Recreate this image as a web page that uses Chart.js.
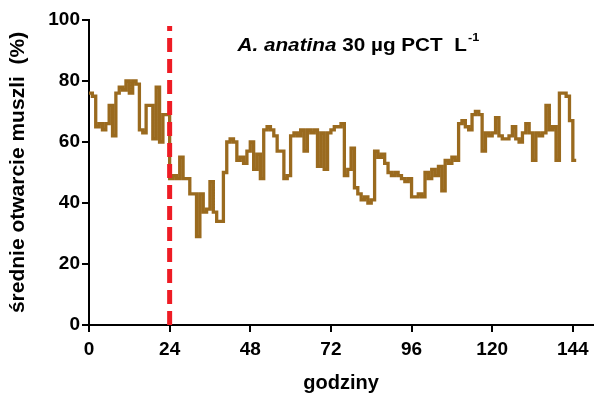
<!DOCTYPE html>
<html>
<head>
<meta charset="utf-8">
<script src="https://cdn.jsdelivr.net/npm/chart.js@4.4.0/dist/chart.umd.min.js"></script>
<style>
  html, body { margin: 0; padding: 0; background: #fff; }
  #wrap { width: 597px; height: 399px; }
</style>
</head>
<body>
<div id="wrap"><canvas id="chartMuszle"></canvas></div>
<script>
// godziny pomiaru (co 1 h) i srednie otwarcie muszli (%)
const godziny = [];
for (let h = 0; h <= 145; h++) godziny.push(h);
const otwarcie = [
  76, 76, 75, 65, 66, 64, 66, 72, 62, 76,
  78, 77, 80, 76, 80, 79, 64, 63, 72, 72,
  61, 78, 60, 69, 69, 48, 49, 48, 55, 48,
  48, 43, 43, 29, 43, 37, 38, 47, 37, 34,
  34, 50, 60, 61, 60, 54, 55, 53, 57, 60,
  51, 56, 48, 64, 65, 64, 62, 57, 57, 48,
  49, 62, 63, 62, 64, 57, 64, 63, 64, 52,
  63, 51, 63, 64, 65, 65, 66, 49, 51, 58,
  45, 43, 41, 42, 40, 41, 57, 55, 56, 53,
  50, 49, 50, 49, 48, 47, 48, 42, 42, 43,
  42, 50, 48, 51, 49, 52, 44, 54, 53, 55,
  54, 66, 67, 65, 64, 69, 70, 69, 57, 63,
  62, 63, 68, 62, 61, 61, 62, 65, 61, 60,
  63, 66, 63, 54, 63, 62, 63, 72, 64, 65,
  54, 76, 76, 75, 67, 54
];
// moment podania PCT
const dawkaX = [24, 24];
const dawkaY = [0, 98];
const xTicks = [0, 24, 48, 72, 96, 120, 144];
const yTicks = [0, 20, 40, 60, 80, 100];

const seria = godziny.map((h, i) => ({ x: h, y: otwarcie[i] }));
const linia = dawkaX.map((x, i) => ({ x: x, y: dawkaY[i] }));

const FONT = 'Liberation Sans, Arial, Helvetica, sans-serif';

// napis w polu wykresu
const tytul = {
  id: 'tytul',
  afterDraw(chart) {
    const c = chart.ctx;
    const x0 = chart.scales.x.getPixelForValue(44.2);
    const y0 = chart.scales.y.getPixelForValue(91.5);
    c.save();
    c.translate(x0, y0);
    c.scale(1.15, 1);
    c.fillStyle = '#000';
    c.textBaseline = 'middle';
    c.font = 'italic bold 18px ' + FONT;
    c.fillText('A. anatina', 0, 0);
    let x = c.measureText('A. anatina ').width;
    c.font = 'bold 18px ' + FONT;
    const t = '30 \u00b5g PCT  L';
    c.fillText(t, x, 0);
    x += c.measureText(t).width + 1;
    c.font = 'bold 11px ' + FONT;
    c.fillText('-1', x, -8);
    c.restore();
  }
};

new Chart(document.getElementById('chartMuszle').getContext('2d'), {
  type: 'line',
  data: {
    datasets: [
      {
        data: seria,
        borderColor: '#9A6A1E',
        borderWidth: 3.3,
        stepped: 'after',
        pointRadius: 0,
        fill: false,
        order: 2
      },
      {
        data: linia,
        borderColor: '#EE1C24',
        borderWidth: 5,
        borderDash: [14, 7],
        pointRadius: 0,
        fill: false,
        order: 1
      }
    ]
  },
  options: {
    responsive: true,
    maintainAspectRatio: false,
    animation: false,
    layout: { padding: { top: 20, right: 4, left: 0, bottom: 0 } },
    plugins: { legend: { display: false }, tooltip: { enabled: false } },
    scales: {
      x: {
        type: 'linear',
        min: 0,
        max: 150,
        afterBuildTicks: s => { s.ticks = xTicks.map(v => ({ value: v })); },
        afterFit: s => { s.height = 74; },
        border: { color: '#000', width: 2 },
        grid: { drawOnChartArea: false, color: '#000', lineWidth: 2, tickLength: 7 },
        ticks: { color: '#000', font: { family: FONT, size: 19, weight: 'bold' }, maxRotation: 0, padding: 6 },
        title: { display: true, text: 'godziny', color: '#000', font: { family: FONT, size: 20, weight: 'bold' }, padding: { top: 0, bottom: 4 } }
      },
      y: {
        min: 0,
        max: 100,
        afterBuildTicks: s => { s.ticks = yTicks.map(v => ({ value: v })); },
        afterFit: s => { s.width = 89; },
        border: { color: '#000', width: 2 },
        grid: { drawOnChartArea: false, color: '#000', lineWidth: 2, tickLength: 7 },
        ticks: { color: '#000', font: { family: FONT, size: 19, weight: 'bold' }, padding: 2 },
        title: { display: true, text: '\u015brednie otwarcie muszli  (%)', color: '#000', font: { family: FONT, size: 21, weight: 'bold' }, padding: { top: 6, bottom: 0 } }
      }
    }
  },
  plugins: [tytul]
});
</script>
</body>
</html>
